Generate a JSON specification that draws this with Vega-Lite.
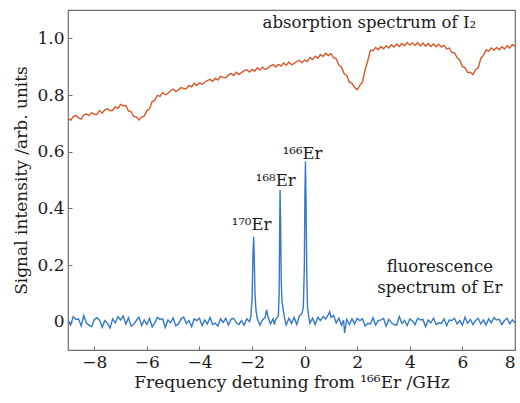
{
  "$schema": "https://vega.github.io/schema/vega-lite/v6.json",
  "width": 447,
  "height": 340,
  "autosize": {"type": "none"},
  "padding": {"left": 68, "top": 10, "right": 5, "bottom": 53},
  "background": "white",
  "config": {
    "view": {"stroke": "#6e6e6e", "strokeWidth": 1.2},
    "font": "DejaVu Serif",
    "style": {
      "guide-label": {"font": "DejaVu Serif", "fontSize": 17, "fill": "#1a1a1a"},
      "guide-title": {"font": "DejaVu Serif", "fontSize": 17, "fill": "#1a1a1a", "fontWeight": "normal"}
    },
    "axis": {
      "domain": false,
      "grid": false,
      "tickSize": -4,
      "tickColor": "#6e6e6e",
      "labelFont": "DejaVu Serif",
      "labelFontSize": 17,
      "labelColor": "#1a1a1a",
      "titleFont": "DejaVu Serif",
      "titleFontSize": 17,
      "titleFontWeight": "normal",
      "titleColor": "#1a1a1a"
    }
  },
  "datasets": {
    "abs": [
      {"x":-9.0,"y":0.718},{"x":-8.9,"y":0.711},{"x":-8.8,"y":0.724},{"x":-8.7,"y":0.728},{"x":-8.6,"y":0.719},{"x":-8.5,"y":0.715},{"x":-8.4,"y":0.730},{"x":-8.3,"y":0.733},{"x":-8.2,"y":0.727},{"x":-8.1,"y":0.738},
      {"x":-8.0,"y":0.732},{"x":-7.9,"y":0.731},{"x":-7.8,"y":0.745},{"x":-7.7,"y":0.736},{"x":-7.6,"y":0.748},{"x":-7.5,"y":0.751},{"x":-7.4,"y":0.744},{"x":-7.3,"y":0.746},{"x":-7.2,"y":0.758},{"x":-7.1,"y":0.753},
      {"x":-7.0,"y":0.767},{"x":-6.9,"y":0.762},{"x":-6.8,"y":0.763},{"x":-6.7,"y":0.744},{"x":-6.6,"y":0.741},{"x":-6.5,"y":0.724},{"x":-6.4,"y":0.723},{"x":-6.3,"y":0.712},{"x":-6.2,"y":0.722},{"x":-6.1,"y":0.726},
      {"x":-6.0,"y":0.745},{"x":-5.9,"y":0.751},{"x":-5.8,"y":0.777},{"x":-5.7,"y":0.781},{"x":-5.6,"y":0.799},{"x":-5.5,"y":0.795},{"x":-5.4,"y":0.809},{"x":-5.3,"y":0.801},{"x":-5.2,"y":0.806},{"x":-5.1,"y":0.815},
      {"x":-5.0,"y":0.821},{"x":-4.9,"y":0.812},{"x":-4.8,"y":0.818},{"x":-4.7,"y":0.826},{"x":-4.6,"y":0.823},{"x":-4.5,"y":0.822},{"x":-4.4,"y":0.834},{"x":-4.3,"y":0.829},{"x":-4.2,"y":0.841},{"x":-4.1,"y":0.833},
      {"x":-4.0,"y":0.843},{"x":-3.9,"y":0.838},{"x":-3.8,"y":0.845},{"x":-3.7,"y":0.851},{"x":-3.6,"y":0.855},{"x":-3.5,"y":0.848},{"x":-3.4,"y":0.859},{"x":-3.3,"y":0.853},{"x":-3.2,"y":0.866},{"x":-3.1,"y":0.862},
      {"x":-3.0,"y":0.861},{"x":-2.9,"y":0.870},{"x":-2.8,"y":0.876},{"x":-2.7,"y":0.869},{"x":-2.6,"y":0.880},{"x":-2.5,"y":0.872},{"x":-2.4,"y":0.879},{"x":-2.3,"y":0.886},{"x":-2.2,"y":0.889},{"x":-2.1,"y":0.881},
      {"x":-2.0,"y":0.890},{"x":-1.9,"y":0.884},{"x":-1.8,"y":0.896},{"x":-1.7,"y":0.888},{"x":-1.6,"y":0.898},{"x":-1.5,"y":0.890},{"x":-1.4,"y":0.895},{"x":-1.3,"y":0.903},{"x":-1.2,"y":0.907},{"x":-1.1,"y":0.899},
      {"x":-1.0,"y":0.908},{"x":-0.9,"y":0.902},{"x":-0.8,"y":0.913},{"x":-0.7,"y":0.905},{"x":-0.6,"y":0.916},{"x":-0.5,"y":0.907},{"x":-0.4,"y":0.911},{"x":-0.3,"y":0.919},{"x":-0.2,"y":0.922},{"x":-0.1,"y":0.914},
      {"x":0.0,"y":0.924},{"x":0.1,"y":0.918},{"x":0.2,"y":0.932},{"x":0.3,"y":0.925},{"x":0.4,"y":0.937},{"x":0.5,"y":0.930},{"x":0.6,"y":0.943},{"x":0.7,"y":0.936},{"x":0.8,"y":0.947},{"x":0.9,"y":0.939},
      {"x":1.0,"y":0.946},{"x":1.1,"y":0.932},{"x":1.2,"y":0.928},{"x":1.3,"y":0.906},{"x":1.4,"y":0.899},{"x":1.5,"y":0.876},{"x":1.6,"y":0.869},{"x":1.7,"y":0.846},{"x":1.8,"y":0.841},{"x":1.9,"y":0.826},
      {"x":2.0,"y":0.819},{"x":2.1,"y":0.834},{"x":2.2,"y":0.846},{"x":2.3,"y":0.889},{"x":2.4,"y":0.921},{"x":2.5,"y":0.958},{"x":2.6,"y":0.957},{"x":2.7,"y":0.968},{"x":2.8,"y":0.960},{"x":2.9,"y":0.971},
      {"x":3.0,"y":0.963},{"x":3.1,"y":0.974},{"x":3.2,"y":0.966},{"x":3.3,"y":0.977},{"x":3.4,"y":0.969},{"x":3.5,"y":0.980},{"x":3.6,"y":0.971},{"x":3.7,"y":0.982},{"x":3.8,"y":0.974},{"x":3.9,"y":0.985},
      {"x":4.0,"y":0.976},{"x":4.1,"y":0.984},{"x":4.2,"y":0.975},{"x":4.3,"y":0.985},{"x":4.4,"y":0.973},{"x":4.5,"y":0.983},{"x":4.6,"y":0.972},{"x":4.7,"y":0.982},{"x":4.8,"y":0.971},{"x":4.9,"y":0.980},
      {"x":5.0,"y":0.970},{"x":5.1,"y":0.979},{"x":5.2,"y":0.969},{"x":5.3,"y":0.976},{"x":5.4,"y":0.963},{"x":5.5,"y":0.966},{"x":5.6,"y":0.950},{"x":5.7,"y":0.949},{"x":5.8,"y":0.931},{"x":5.9,"y":0.923},
      {"x":6.0,"y":0.901},{"x":6.1,"y":0.896},{"x":6.2,"y":0.879},{"x":6.3,"y":0.880},{"x":6.4,"y":0.872},{"x":6.5,"y":0.889},{"x":6.6,"y":0.896},{"x":6.7,"y":0.929},{"x":6.8,"y":0.940},{"x":6.9,"y":0.959},
      {"x":7.0,"y":0.955},{"x":7.1,"y":0.966},{"x":7.2,"y":0.958},{"x":7.3,"y":0.968},{"x":7.4,"y":0.960},{"x":7.5,"y":0.970},{"x":7.6,"y":0.962},{"x":7.7,"y":0.974},{"x":7.8,"y":0.966},{"x":7.9,"y":0.978},
      {"x":8.0,"y":0.971}
    ],
    "flu": [
      {"x":-9.0,"y":0.005},{"x":-8.9,"y":-0.012},{"x":-8.8,"y":0.018},{"x":-8.7,"y":0.008},{"x":-8.6,"y":0.010},{"x":-8.5,"y":-0.015},{"x":-8.4,"y":0.022},{"x":-8.3,"y":-0.005},{"x":-8.2,"y":-0.012},{"x":-8.1,"y":-0.018},
      {"x":-8.0,"y":0.008},{"x":-7.9,"y":0.014},{"x":-7.8,"y":0.005},{"x":-7.7,"y":-0.020},{"x":-7.6,"y":0.004},{"x":-7.5,"y":-0.006},{"x":-7.4,"y":-0.022},{"x":-7.3,"y":0.010},{"x":-7.2,"y":-0.004},{"x":-7.1,"y":0.018},
      {"x":-7.0,"y":0.006},{"x":-6.9,"y":0.020},{"x":-6.8,"y":-0.008},{"x":-6.7,"y":0.014},{"x":-6.6,"y":-0.016},{"x":-6.5,"y":-0.009},{"x":-6.4,"y":0.004},{"x":-6.3,"y":0.016},{"x":-6.2,"y":-0.014},{"x":-6.1,"y":0.006},
      {"x":-6.0,"y":-0.010},{"x":-5.9,"y":0.012},{"x":-5.8,"y":-0.018},{"x":-5.7,"y":-0.004},{"x":-5.6,"y":0.015},{"x":-5.5,"y":0.008},{"x":-5.4,"y":0.010},{"x":-5.3,"y":-0.020},{"x":-5.2,"y":0.006},{"x":-5.1,"y":-0.004},
      {"x":-5.0,"y":0.013},{"x":-4.9,"y":-0.015},{"x":-4.8,"y":-0.008},{"x":-4.7,"y":0.010},{"x":-4.6,"y":0.016},{"x":-4.5,"y":-0.006},{"x":-4.4,"y":0.004},{"x":-4.3,"y":-0.018},{"x":-4.2,"y":0.010},{"x":-4.1,"y":0.004},
      {"x":-4.0,"y":0.012},{"x":-3.9,"y":-0.014},{"x":-3.8,"y":0.006},{"x":-3.7,"y":-0.008},{"x":-3.6,"y":0.015},{"x":-3.5,"y":-0.010},{"x":-3.4,"y":-0.005},{"x":-3.3,"y":-0.016},{"x":-3.2,"y":0.010},{"x":-3.1,"y":-0.003},
      {"x":-3.0,"y":0.012},{"x":-2.9,"y":-0.012},{"x":-2.8,"y":0.008},{"x":-2.7,"y":0.012},{"x":-2.6,"y":-0.004},{"x":-2.5,"y":-0.010},{"x":-2.4,"y":0.004},{"x":-2.3,"y":-0.012},{"x":-2.2,"y":0.010},{"x":-2.1,"y":0.000},
      {"x":-2.05,"y":0.015},{"x":-2.0,"y":0.080},{"x":-1.97,"y":0.220},{"x":-1.94,"y":0.300},{"x":-1.92,"y":0.240},{"x":-1.89,"y":0.100},{"x":-1.85,"y":0.040},{"x":-1.8,"y":0.010},{"x":-1.7,"y":-0.012},{"x":-1.6,"y":0.006},
      {"x":-1.5,"y":0.015},{"x":-1.45,"y":0.042},{"x":-1.4,"y":0.020},{"x":-1.3,"y":-0.008},{"x":-1.2,"y":0.010},{"x":-1.15,"y":-0.010},{"x":-1.1,"y":0.008},{"x":-1.0,"y":0.020},{"x":-0.97,"y":0.100},{"x":-0.95,"y":0.320},
      {"x":-0.935,"y":0.465},{"x":-0.915,"y":0.360},{"x":-0.89,"y":0.140},{"x":-0.86,"y":0.070},{"x":-0.82,"y":0.045},{"x":-0.76,"y":0.010},{"x":-0.7,"y":-0.012},{"x":-0.6,"y":0.012},{"x":-0.5,"y":-0.006},{"x":-0.4,"y":0.015},
      {"x":-0.3,"y":-0.010},{"x":-0.2,"y":0.020},{"x":-0.1,"y":0.030},{"x":-0.05,"y":0.050},{"x":-0.01,"y":0.200},{"x":0.01,"y":0.450},{"x":0.03,"y":0.565},{"x":0.05,"y":0.450},{"x":0.08,"y":0.180},{"x":0.11,"y":0.050},
      {"x":0.16,"y":0.015},{"x":0.2,"y":-0.006},{"x":0.3,"y":0.012},{"x":0.4,"y":-0.010},{"x":0.5,"y":0.015},{"x":0.6,"y":0.004},{"x":0.7,"y":0.018},{"x":0.8,"y":0.010},{"x":0.9,"y":0.025},{"x":0.95,"y":0.035},
      {"x":1.0,"y":0.015},{"x":1.1,"y":0.022},{"x":1.2,"y":-0.005},{"x":1.3,"y":0.012},{"x":1.4,"y":-0.012},{"x":1.48,"y":0.005},{"x":1.52,"y":-0.040},{"x":1.6,"y":0.008},{"x":1.7,"y":-0.010},{"x":1.8,"y":0.010},
      {"x":1.9,"y":-0.008},{"x":2.0,"y":0.012},{"x":2.1,"y":0.004},{"x":2.2,"y":0.010},{"x":2.3,"y":-0.015},{"x":2.4,"y":-0.006},{"x":2.5,"y":-0.008},{"x":2.6,"y":0.014},{"x":2.7,"y":-0.012},{"x":2.8,"y":0.004},
      {"x":2.9,"y":0.006},{"x":3.0,"y":0.012},{"x":3.1,"y":-0.016},{"x":3.2,"y":0.008},{"x":3.3,"y":-0.004},{"x":3.4,"y":-0.010},{"x":3.5,"y":-0.012},{"x":3.6,"y":0.018},{"x":3.7,"y":-0.006},{"x":3.8,"y":0.004},
      {"x":3.9,"y":-0.014},{"x":4.0,"y":0.010},{"x":4.1,"y":0.002},{"x":4.2,"y":-0.010},{"x":4.3,"y":0.012},{"x":4.4,"y":0.006},{"x":4.5,"y":0.008},{"x":4.6,"y":-0.018},{"x":4.7,"y":0.006},{"x":4.8,"y":-0.004},
      {"x":4.9,"y":0.012},{"x":5.0,"y":-0.010},{"x":5.1,"y":-0.004},{"x":5.2,"y":-0.006},{"x":5.3,"y":0.010},{"x":5.4,"y":-0.014},{"x":5.5,"y":0.006},{"x":5.6,"y":0.004},{"x":5.7,"y":0.012},{"x":5.8,"y":-0.008},
      {"x":5.9,"y":0.004},{"x":6.0,"y":-0.012},{"x":6.1,"y":0.016},{"x":6.2,"y":-0.006},{"x":6.3,"y":0.008},{"x":6.4,"y":-0.010},{"x":6.5,"y":0.004},{"x":6.6,"y":0.012},{"x":6.7,"y":-0.008},{"x":6.8,"y":0.006},
      {"x":6.9,"y":-0.012},{"x":7.0,"y":0.010},{"x":7.1,"y":-0.004},{"x":7.2,"y":0.014},{"x":7.3,"y":0.006},{"x":7.4,"y":0.008},{"x":7.5,"y":-0.010},{"x":7.6,"y":0.004},{"x":7.7,"y":0.012},{"x":7.8,"y":-0.008},
      {"x":7.9,"y":0.006},{"x":8.0,"y":-0.004}
    ],
    "labels": [
      {"x":-2.02,"y":0.324,"t":"¹⁷⁰Er"},
      {"x":-1.1,"y":0.479,"t":"¹⁶⁸Er"},
      {"x":-0.08,"y":0.574,"t":"¹⁶⁶Er"},
      {"x":5.14,"y":0.176,"t":"fluorescence"},
      {"x":5.14,"y":0.102,"t":"spectrum of Er"}
    ],
    "title": [
      {"x":-1.6,"y":1.035,"t":"absorption spectrum of I₂"}
    ]
  },
  "layer": [
    {
      "data": {"name": "abs"},
      "mark": {"type": "line", "color": "#d8582a", "strokeWidth": 1.4, "clip": true},
      "encoding": {
        "x": {
          "field": "x", "type": "quantitative",
          "scale": {"domain": [-9, 8], "nice": false, "zero": false},
          "axis": {"values": [-8,-6,-4,-2,0,2,4,6,8], "title": "Frequency detuning from ¹⁶⁶Er /GHz", "labelPadding": 8, "titlePadding": 4,
                   "labelFont": "DejaVu Serif", "titleFont": "DejaVu Serif"}
        },
        "y": {
          "field": "y", "type": "quantitative",
          "scale": {"domain": [-0.1, 1.1], "nice": false, "zero": false},
          "axis": {"values": [0,0.2,0.4,0.6,0.8,1.0], "title": "Signal intensity /arb. units", "labelPadding": 8, "titlePadding": 6,
                   "labelFont": "DejaVu Serif", "titleFont": "DejaVu Serif",
                   "labelExpr": "datum.value == 0 ? '0' : format(datum.value, '.1f')"}
        }
      }
    },
    {
      "data": {"name": "flu"},
      "mark": {"type": "line", "color": "#3479c6", "strokeWidth": 1.4, "clip": true},
      "encoding": {
        "x": {"field": "x", "type": "quantitative"},
        "y": {"field": "y", "type": "quantitative"}
      }
    },
    {
      "data": {"name": "labels"},
      "mark": {"type": "text", "fontSize": 16.5, "color": "#1a1a1a", "baseline": "alphabetic", "align": "center", "font": "DejaVu Serif"},
      "encoding": {
        "x": {"field": "x", "type": "quantitative"},
        "y": {"field": "y", "type": "quantitative"},
        "text": {"field": "t", "type": "nominal"}
      }
    },
    {
      "data": {"name": "title"},
      "mark": {"type": "text", "fontSize": 16.5, "color": "#1a1a1a", "baseline": "alphabetic", "align": "left", "font": "DejaVu Serif"},
      "encoding": {
        "x": {"field": "x", "type": "quantitative"},
        "y": {"field": "y", "type": "quantitative"},
        "text": {"field": "t", "type": "nominal"}
      }
    }
  ]
}
